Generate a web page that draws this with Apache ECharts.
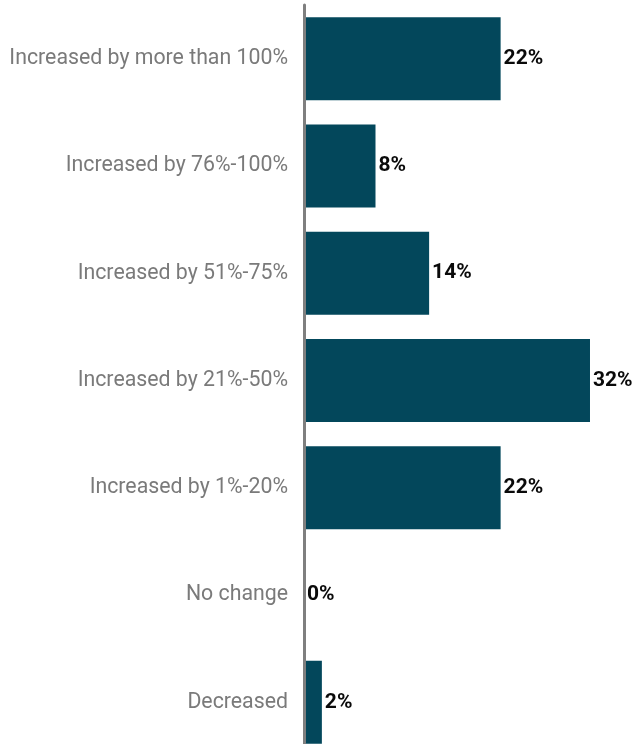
<!DOCTYPE html>
<html><head><meta charset="utf-8">
<script src="https://cdn.jsdelivr.net/npm/echarts@6/dist/echarts.min.js"></script>
<style>html,body{margin:0;padding:0;background:#fff}#c{width:632px;height:744px}</style>
</head><body><div id="c"></div>
<script>
const categories = ["Increased by more than 100%","Increased by 76%-100%","Increased by 51%-75%","Increased by 21%-50%","Increased by 1%-20%","No change","Decreased"];
const values = [22, 8, 14, 32, 22, 0, 2];

const chart = echarts.init(document.getElementById('c'), null, {renderer:'canvas'});
chart.setOption({
  animation: false,
  grid: {left: 304, width: 328, top: 5, height: 751, containLabel: false, outerBoundsMode: 'none'},
  xAxis: {type:'value', min:0, max:36.7, show:false},
  yAxis: {type:'category', data: categories, inverse:true, z: 5,
    axisLine:{show:true, lineStyle:{color:'#7f7f7f', width:3}},
    axisTick:{show:false},
    axisLabel:{color:'#7a7a7a', fontSize:21.3, fontFamily:'Roboto', margin:16, padding:[5,0,0,0]}
  },
  series: [{type:'bar', data: values, barWidth: 83,
    itemStyle:{color:'#03475b'},
    label:{show:true, position:'right', distance:3, formatter:'{c}%', color:'#0a0a0a', fontSize:21, fontWeight:'bold', fontFamily:'Roboto'}
  }]
});
</script></body></html>
